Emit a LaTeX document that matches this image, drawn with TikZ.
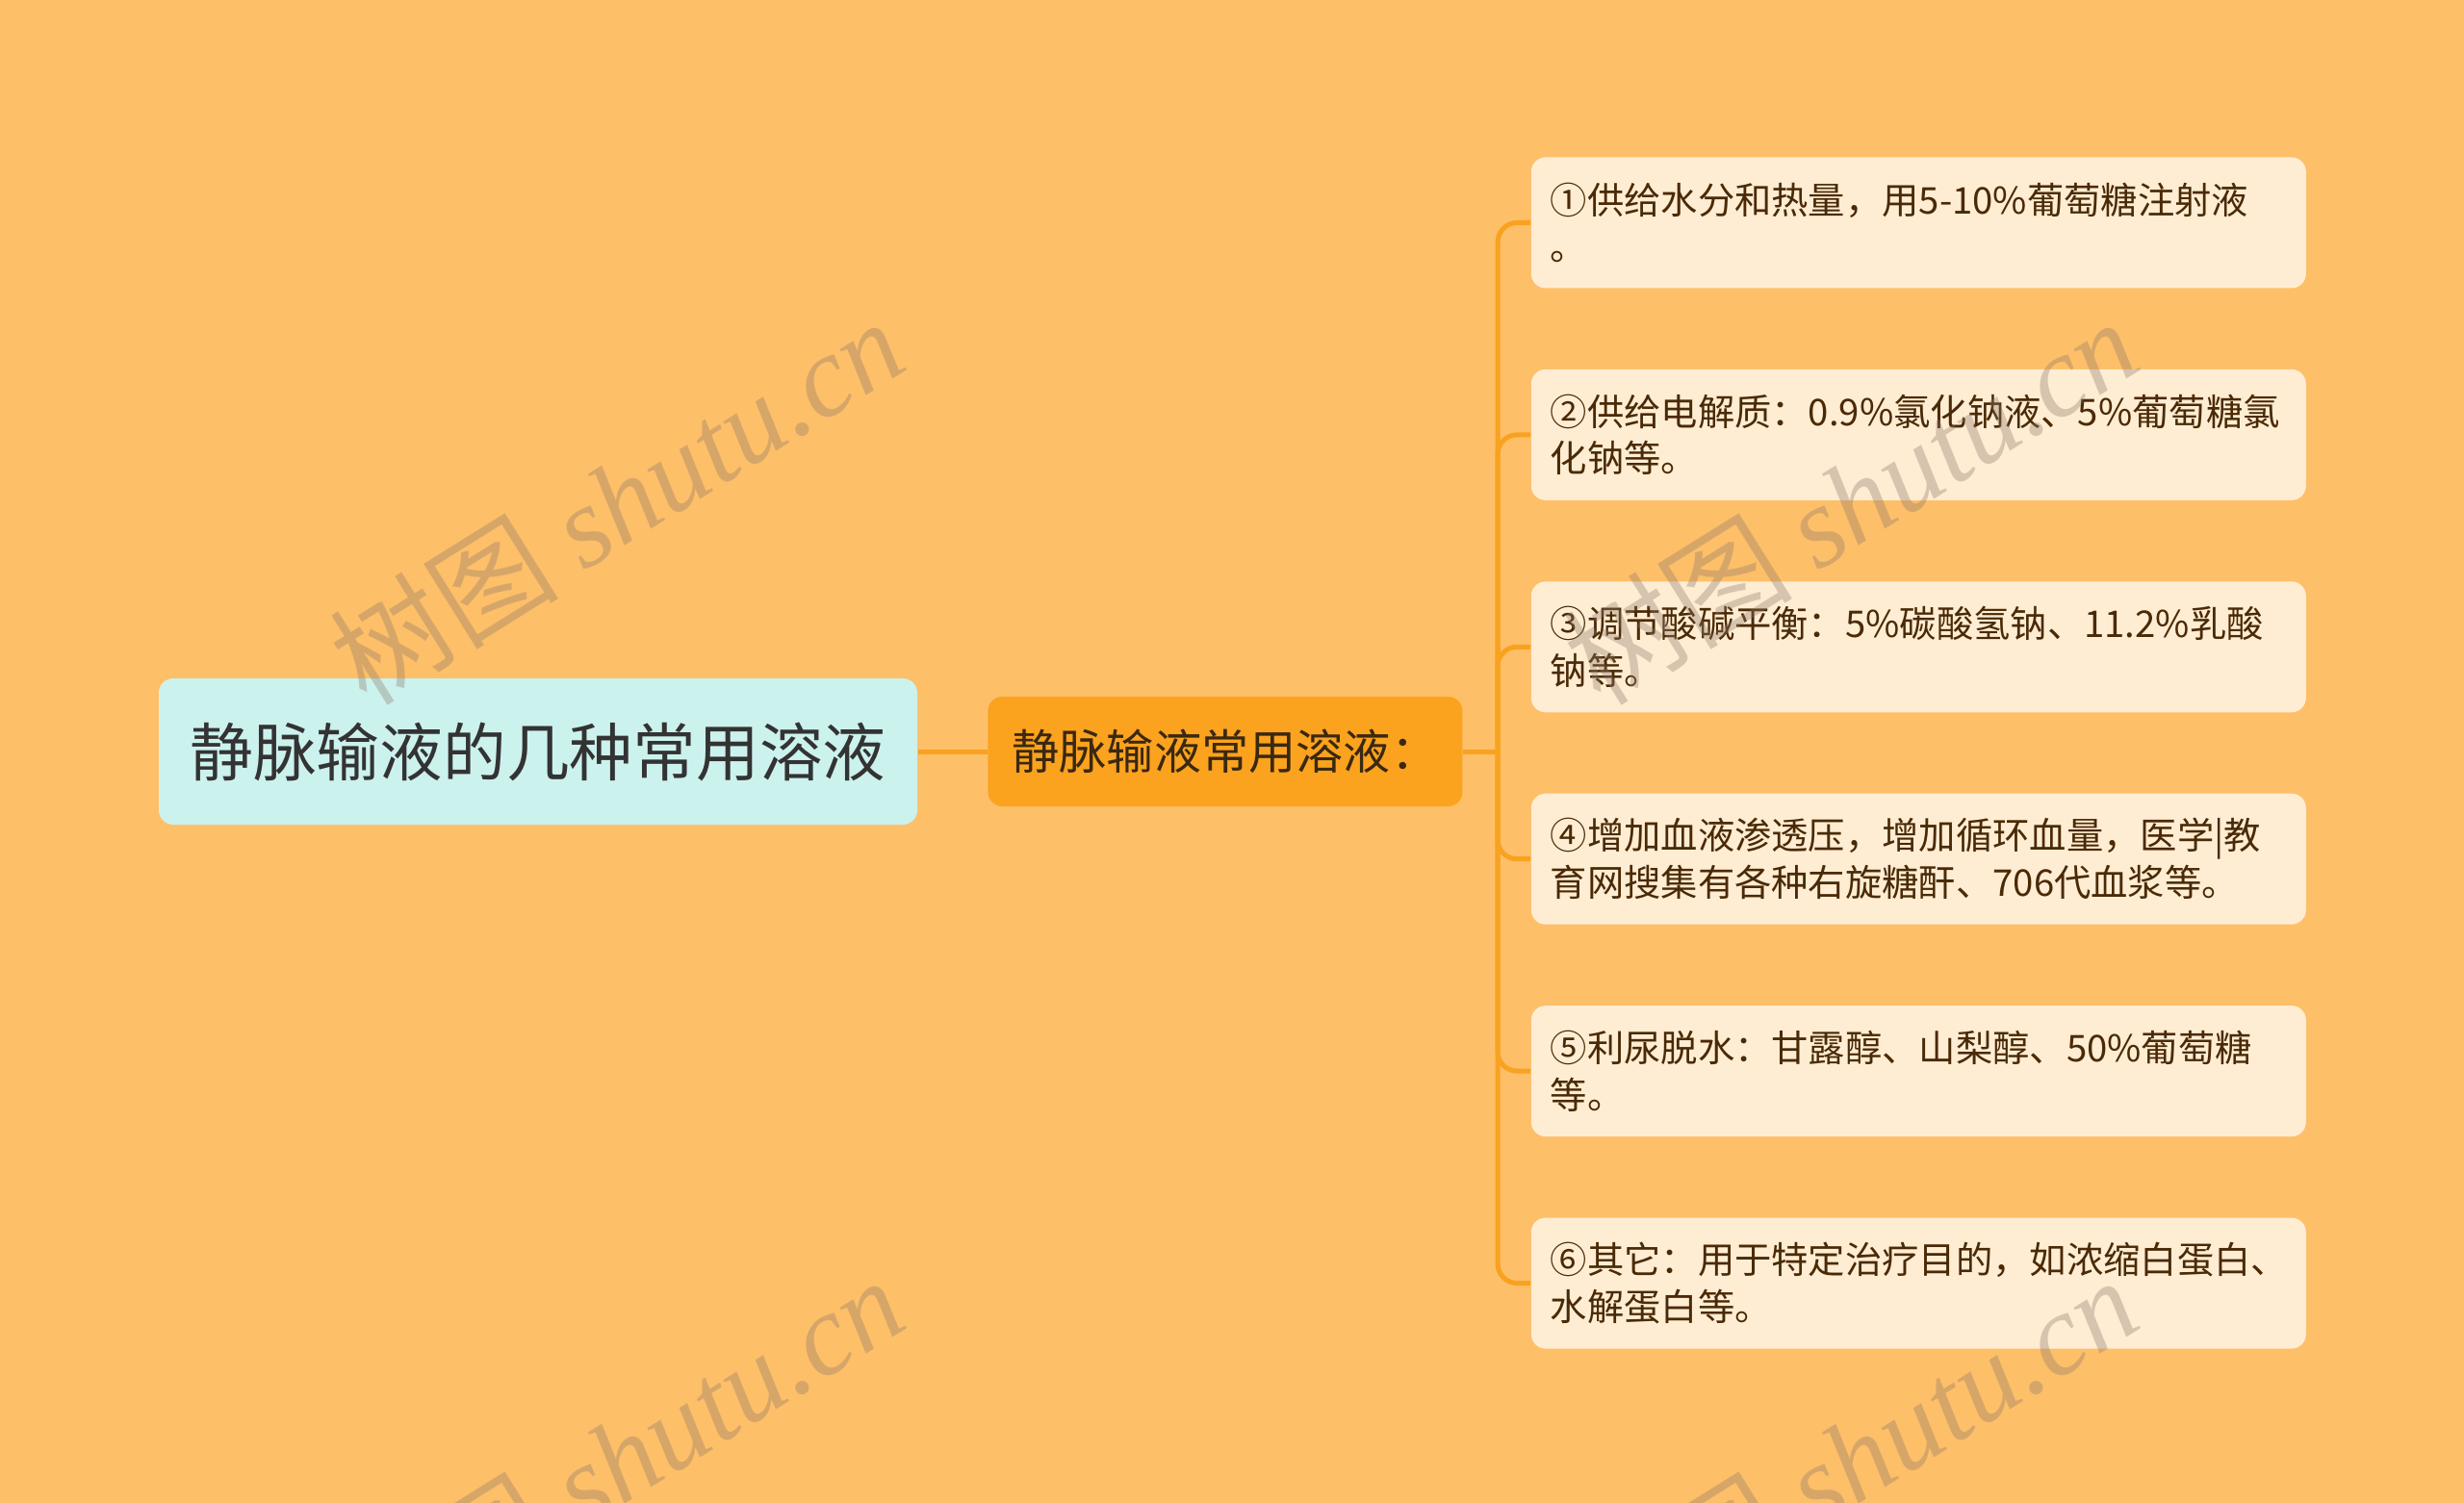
\documentclass[tikz,border=0pt]{standalone}
\usepackage{fontspec}
\setmainfont{Noto Sans CJK SC}
\newfontfamily\wmserif{Liberation Serif}
\usetikzlibrary{positioning}

\definecolor{paper}{HTML}{FEBF69}
\definecolor{rootfill}{HTML}{CCF2EE}
\definecolor{branchfill}{HTML}{FBA21E}
\definecolor{leaffill}{HTML}{FFEDD3}
\definecolor{linkorange}{HTML}{F8A220}
\definecolor{leaftext}{HTML}{4A2A06}
\definecolor{roottext}{HTML}{333333}
\definecolor{branchtext}{HTML}{3A2810}
\definecolor{markgrey}{HTML}{8C7A6A}

\tikzset{
  rootbox/.style={rectangle, rounded corners=0.15cm, fill=rootfill, text=roottext,
    minimum width=7.88cm, minimum height=1.52cm, inner sep=0pt,
    font=\fontsize{18.7pt}{22pt}\selectfont},
  branchbox/.style={rectangle, rounded corners=0.15cm, fill=branchfill, text=branchtext,
    minimum height=1.14cm, text width=4.43cm, inner xsep=0.25cm, inner ysep=0pt, align=left,
    font=\fontsize{14pt}{16pt}\selectfont},
  leafbox/.style={rectangle, rounded corners=0.15cm, fill=leaffill, text=leaftext,
    minimum height=1.36cm, text width=7.65cm, inner xsep=0.2cm, inner ysep=0pt, align=left,
    font=\fontsize{10.9pt}{13.9pt}\selectfont},
  link/.style={draw=linkorange, line width=0.05cm, rounded corners=0.2cm},
  watermark/.style={rotate=32, text=markgrey, opacity=0.35,
    font=\fontsize{34pt}{40pt}\selectfont}
}

\begin{document}
\begin{tikzpicture}
			\fill[paper] (0,0) rectangle (25.6,-15.62);
			\useasboundingbox (0,0) rectangle (25.6,-15.62);

			\node[rootbox] (Root) at (5.59,-7.81) {静脉输液的几种常用溶液};
			\node[branchbox] (Solutions) [right=0.72cm of Root] {静脉输液常用溶液：};
			\coordinate[right=0.36cm of Solutions.east] (Trunk);

			\node[leafbox] (Acidbase) [above right=0.4cm and 0.7cm of Solutions.east] {③调节酸碱平衡：5\%碳酸氢钠、11.2\%乳酸\\钠等。};
			\node[leafbox] (Electrolyte) [above=0.83cm of Acidbase] {②供给电解质：0.9\%氯化钠液、5\%葡萄糖氯\\化钠等。};
			\node[leafbox] (Water) [above=0.83cm of Electrolyte] {①供给水分和热量，用5-10\%葡萄糖注射液\\。};
			\node[leafbox] (Osmotic) [below=0.83cm of Acidbase] {④增加血液渗透压，增加循环血量，医学|教\\育网搜集有各种右旋糖酐、706代血浆等。};
			\node[leafbox] (Diuresis) [below=0.83cm of Osmotic] {⑤利尿脱水：甘露醇、山梨醇、50\%葡萄糖\\等。};
			\node[leafbox] (Other) [below=0.83cm of Diuresis] {⑥其它：用于特定治疗目的，如浓缩白蛋白、\\水解蛋白等。};

			\draw[link] (Root) -- (Solutions);
			\draw[link] (Solutions.east) -- (Trunk);
			\draw[link] (Trunk) |- (Water.west);
			\draw[link] (Trunk) |- (Electrolyte.west);
			\draw[link] (Trunk) |- (Acidbase.west);
			\draw[link] (Trunk) |- (Osmotic.west);
			\draw[link] (Trunk) |- (Diuresis.west);
			\draw[link] (Trunk) |- (Other.west);

			% watermarks
			\node[watermark] (MarkTopLeft) at (6.4,-5.2) {树图 {\wmserif\itshape shutu.cn}};
			\node[watermark] (MarkTopRight) at (19.22,-5.2) {树图 {\wmserif\itshape shutu.cn}};
			\node[watermark] (MarkBottomLeft) at (6.4,-15.16) {树图 {\wmserif\itshape shutu.cn}};
			\node[watermark] (MarkBottomRight) at (19.22,-15.16) {树图 {\wmserif\itshape shutu.cn}};
\end{tikzpicture}
\end{document}
